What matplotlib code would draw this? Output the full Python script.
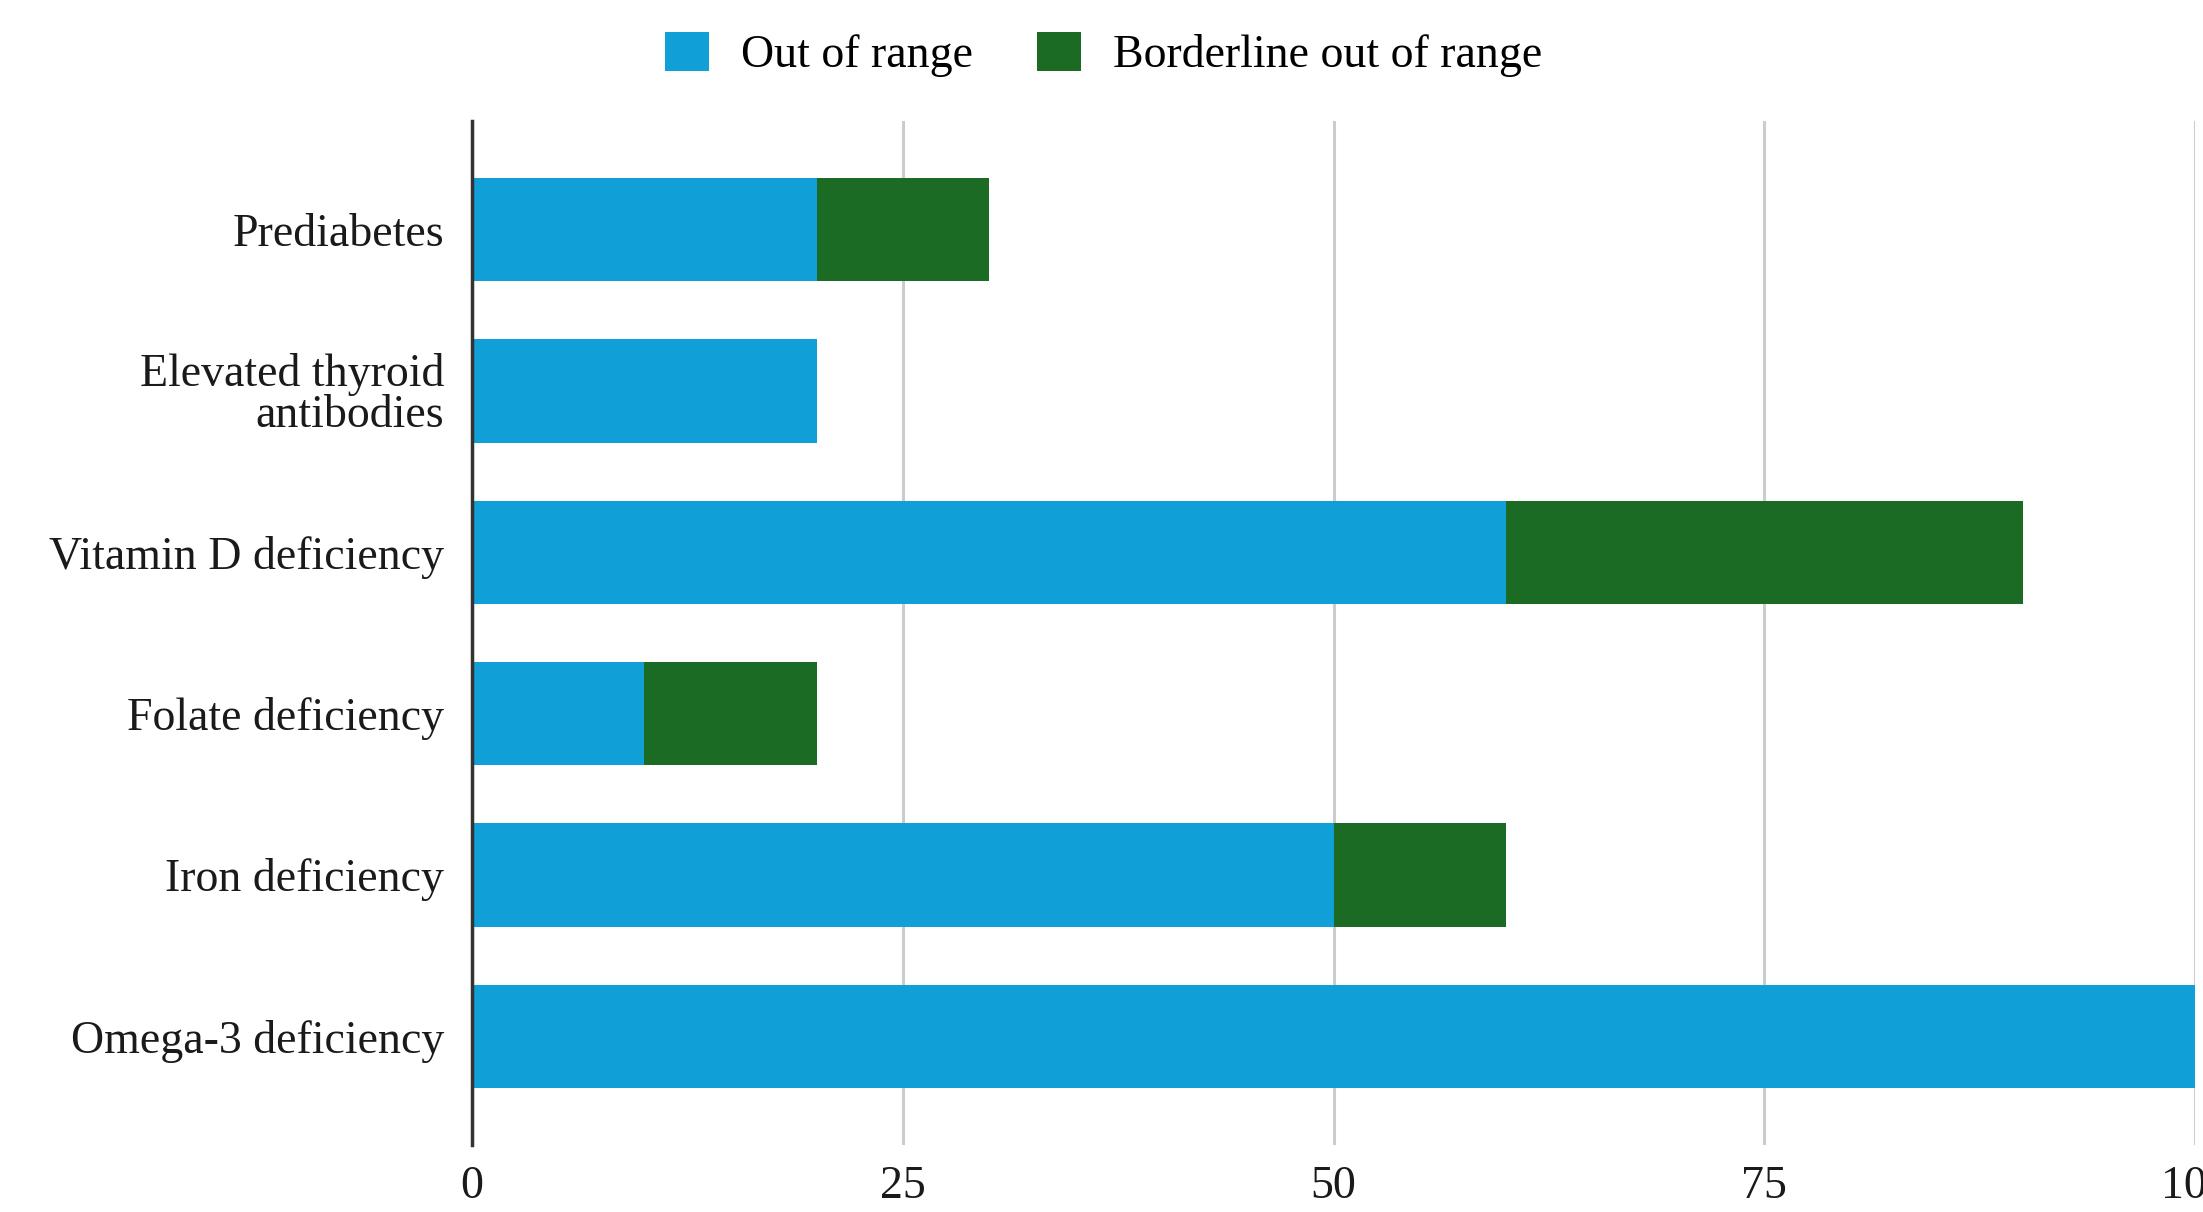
import matplotlib.pyplot as plt
from matplotlib.patches import Patch

categories = ["Prediabetes", "Elevated thyroid\nantibodies", "Vitamin D deficiency",
              "Folate deficiency", "Iron deficiency", "Omega-3 deficiency"]
out_of_range = [20, 20, 60, 10, 50, 100]
borderline = [10, 0, 30, 10, 10, 0]
x_ticks = [0, 25, 50, 75, 100]

blue = "#119fd7"
green = "#1b6b24"

plt.rcParams["font.family"] = ["Liberation Serif", "DejaVu Serif"]

fig = plt.figure(figsize=(22.03, 12.12), dpi=100)
ax = fig.add_axes([0.2143, 0.0553, 0.7821, 0.8449])

pos = list(range(len(categories)))
ax.barh(pos, out_of_range, height=0.64, color=blue, zorder=3)
ax.barh(pos, borderline, left=out_of_range, height=0.64, color=green, zorder=3)

ax.set_xlim(0, 100)
ax.set_ylim(5.674, -0.674)
ax.set_xticks(x_ticks)
ax.set_yticks(pos)
ax.set_yticklabels(categories, fontsize=33, color="#1a1a1a", linespacing=0.95)
ax.tick_params(axis="x", labelsize=33, colors="#1a1a1a", length=0, pad=15)
ax.tick_params(axis="y", length=0, pad=20)
for lbl in ax.get_xticklabels():
    lbl.set_clip_on(False)

ax.grid(axis="x", color="#cccccc", linewidth=2.2, zorder=0)
for side in ["top", "right", "bottom"]:
    ax.spines[side].set_visible(False)
ax.spines["left"].set_color("#333333")
ax.spines["left"].set_linewidth(2.5)
ax.spines["left"].set_zorder(4)

handles = [Patch(facecolor=blue, label="Out of range"),
           Patch(facecolor=green, label="Borderline out of range")]
fig.legend(handles=handles, loc="center", bbox_to_anchor=(0.501, 0.955), ncol=2,
           frameon=False, fontsize=33, handlelength=0.95, handleheight=0.95,
           handletextpad=0.7, columnspacing=1.4)

fig.savefig("out.png", dpi=100)
